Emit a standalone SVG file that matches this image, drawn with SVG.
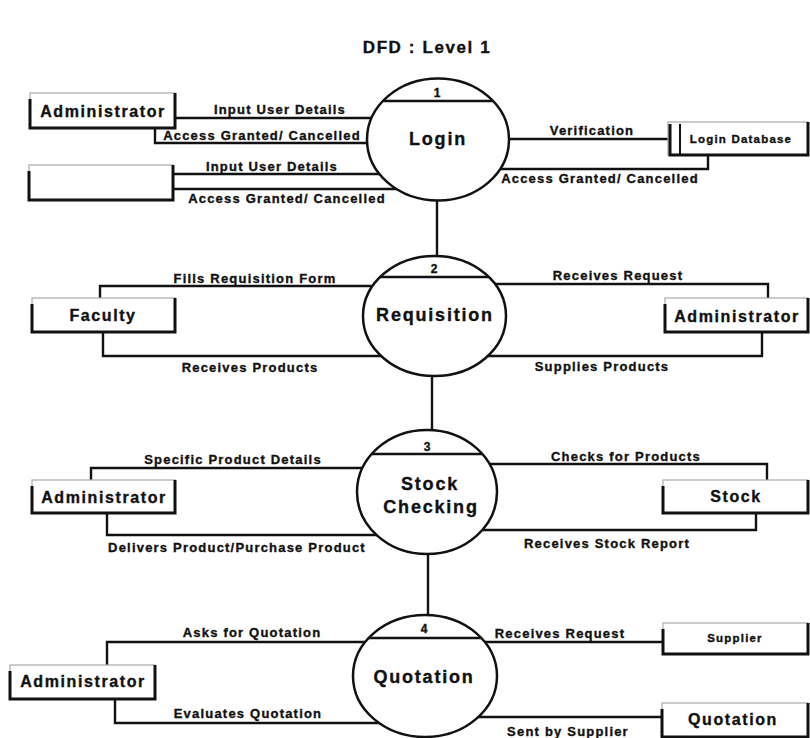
<svg xmlns="http://www.w3.org/2000/svg" width="810" height="738" viewBox="0 0 810 738">
  <style>
    text { font-family: "Liberation Sans", Arial, sans-serif; font-weight: bold; fill: #111; stroke: #111; stroke-width: 0.35; text-anchor: middle; }
    .title { font-size: 17px; letter-spacing: 1.6px; }
    .lbl { font-size: 13px; letter-spacing: 1.2px; }
    .ent { font-size: 16px; letter-spacing: 1.6px; }
    .small { font-size: 11.5px; letter-spacing: 1.2px; }
    .proc { font-size: 18px; letter-spacing: 1.8px; }
    .num { font-size: 12px; }
    .flow { fill: none; stroke: #111; stroke-width: 2.4; }
    .bubble { fill: #fff; stroke: #111; stroke-width: 2.5; }
    .divider { stroke: #111; stroke-width: 2.4; }
    .box { fill: #fff; stroke: #aaa; stroke-width: 1.2; }
    .edge { fill: none; stroke: #111; stroke-width: 3; }
  </style>

  <rect width="810" height="738" fill="#fff"/>

  <text class="title" x="427" y="53">DFD : Level 1</text>

  <!-- data flows (drawn first; process bubbles cover their inner ends) -->
  <g id="connectors">
    <!-- Login -->
    <path class="flow" d="M175,118 H438"/>
    <path class="flow" d="M155,128 V143 H438"/>
    <path class="flow" d="M173,174 H438"/>
    <path class="flow" d="M173,189 H438"/>
    <path class="flow" d="M438,139 H668"/>
    <path class="flow" d="M438,169 H708 V155"/>
    <path class="flow" d="M437,200 V258"/>
    <!-- Requisition -->
    <path class="flow" d="M100,298 V286 H434"/>
    <path class="flow" d="M103,332 V356 H434"/>
    <path class="flow" d="M434,284 H768 V298"/>
    <path class="flow" d="M434,356 H762 V332"/>
    <path class="flow" d="M432,374 V432"/>
    <!-- Stock Checking -->
    <path class="flow" d="M91,480 V468 H427"/>
    <path class="flow" d="M107,513 V535 H427"/>
    <path class="flow" d="M427,464 H767 V480"/>
    <path class="flow" d="M427,530 H756 V513"/>
    <path class="flow" d="M428,552 V617"/>
    <!-- Quotation -->
    <path class="flow" d="M107,665 V642 H425"/>
    <path class="flow" d="M115,699 V723 H425"/>
    <path class="flow" d="M425,642 H663"/>
    <path class="flow" d="M425,717 H662"/>

    <text class="lbl" x="280" y="114">Input User Details</text>
    <text class="lbl" x="262" y="140">Access Granted/ Cancelled</text>
    <text class="lbl" x="272" y="171">Input User Details</text>
    <text class="lbl" x="287" y="203">Access Granted/ Cancelled</text>
    <text class="lbl" x="592" y="135">Verification</text>
    <text class="lbl" x="600" y="183">Access Granted/ Cancelled</text>

    <text class="lbl" x="255" y="283">Fills Requisition Form</text>
    <text class="lbl" x="250" y="372">Receives Products</text>
    <text class="lbl" x="618" y="280">Receives Request</text>
    <text class="lbl" x="602" y="371">Supplies Products</text>

    <text class="lbl" x="233" y="464">Specific Product Details</text>
    <text class="lbl" x="237" y="552">Delivers Product/Purchase Product</text>
    <text class="lbl" x="626" y="461">Checks for Products</text>
    <text class="lbl" x="607" y="548">Receives Stock Report</text>

    <text class="lbl" x="252" y="637">Asks for Quotation</text>
    <text class="lbl" x="248" y="718">Evaluates Quotation</text>
    <text class="lbl" x="560" y="638">Receives Request</text>
    <text class="lbl" x="568" y="736">Sent by Supplier</text>
  </g>

  <!-- processes -->
  <g id="p1-login">
    <ellipse class="bubble" cx="438" cy="139.5" rx="71" ry="61"/>
    <line class="divider" x1="383" y1="101" x2="493" y2="101"/>
    <text class="num" x="437" y="97">1</text>
    <text class="proc" x="438" y="145">Login</text>
  </g>
  <g id="p2-requisition">
    <ellipse class="bubble" cx="434.5" cy="316" rx="71.5" ry="60"/>
    <line class="divider" x1="380" y1="277" x2="489" y2="277"/>
    <text class="num" x="434" y="273">2</text>
    <text class="proc" x="435" y="321">Requisition</text>
  </g>
  <g id="p3-stock-checking">
    <ellipse class="bubble" cx="427" cy="492" rx="70" ry="62"/>
    <line class="divider" x1="372" y1="454" x2="482" y2="454"/>
    <text class="num" x="427" y="451">3</text>
    <text class="proc" x="430" y="490">Stock</text>
    <text class="proc" x="431" y="512.5">Checking</text>
  </g>
  <g id="p4-quotation">
    <ellipse class="bubble" cx="425" cy="676" rx="72" ry="61"/>
    <line class="divider" x1="369" y1="638" x2="481" y2="638"/>
    <text class="num" x="424" y="632.5">4</text>
    <text class="proc" x="424" y="682.5">Quotation</text>
  </g>

  <!-- external entities and data stores -->
  <g id="e-administrator-login">
    <rect class="box" x="30" y="93" width="145" height="35"/>
    <path class="edge" d="M30,99 V128 H175 V93"/>
    <text class="ent" x="103" y="117">Administrator</text>
  </g>
  <g id="e-user-login">
    <rect class="box" x="29" y="165" width="144" height="35"/>
    <path class="edge" d="M29,171 V200 H173 V165"/>
  </g>
  <g id="d-login-database">
    <rect class="box" x="668" y="122" width="140" height="33"/>
    <path class="edge" d="M670,124 V155 H808 V122"/>
    <line x1="680" y1="124" x2="680" y2="154" stroke="#111" stroke-width="2"/>
    <text class="small" x="741" y="142.5">Login Database</text>
  </g>
  <g id="e-faculty">
    <rect class="box" x="32" y="298" width="143" height="34"/>
    <path class="edge" d="M32,304 V332 H175 V298"/>
    <text class="ent" x="103" y="320.5">Faculty</text>
  </g>
  <g id="e-administrator-requisition">
    <rect class="box" x="665" y="298" width="143" height="34"/>
    <path class="edge" d="M665,304 V332 H808 V298"/>
    <text class="ent" x="737" y="321.5">Administrator</text>
  </g>
  <g id="e-administrator-stock">
    <rect class="box" x="32" y="480" width="143" height="33"/>
    <path class="edge" d="M32,486 V513 H175 V480"/>
    <text class="ent" x="104" y="502.5">Administrator</text>
  </g>
  <g id="d-stock">
    <rect class="box" x="663" y="480" width="145" height="33"/>
    <path class="edge" d="M663,486 V513 H808 V480"/>
    <text class="ent" x="736" y="502">Stock</text>
  </g>
  <g id="e-administrator-quotation">
    <rect class="box" x="10" y="665" width="145" height="34"/>
    <path class="edge" d="M10,671 V699 H155 V665"/>
    <text class="ent" x="83" y="687">Administrator</text>
  </g>
  <g id="e-supplier">
    <rect class="box" x="663" y="623" width="145" height="31"/>
    <path class="edge" d="M663,629 V654 H808 V623"/>
    <text class="small" x="735" y="641.5">Supplier</text>
  </g>
  <g id="d-quotation">
    <rect class="box" x="662" y="703" width="146" height="34"/>
    <path class="edge" d="M662,709 V737 H808 V703"/>
    <text class="ent" x="733" y="725">Quotation</text>
  </g>
</svg>
